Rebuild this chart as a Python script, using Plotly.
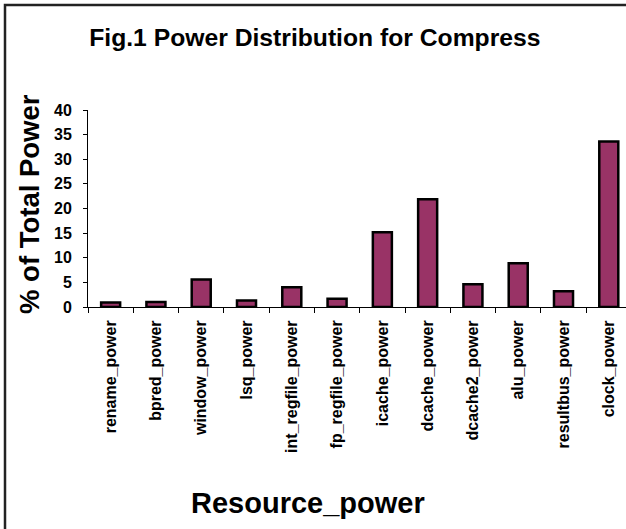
import plotly.graph_objects as go

# Share of total power per processor resource (Compress benchmark)
resources = [
    "rename_power", "bpred_power", "window_power", "lsq_power",
    "int_regfile_power", "fp_regfile_power", "icache_power", "dcache_power",
    "dcache2_power", "alu_power", "resultbus_power", "clock_power",
]
power_pct = [0.9, 1.0, 5.6, 1.3, 4.0, 1.7, 15.2, 21.9, 4.6, 8.9, 3.2, 33.6]
y_ticks = [0, 5, 10, 15, 20, 25, 30, 35, 40]

W, H = 626, 529
M_L, M_R, M_T, M_B = 88, 0, 110, 222
PLOT_W = W - M_L - M_R
PLOT_H = H - M_T - M_B


def px_x(px):
    """Pixel column -> paper x."""
    return (px - M_L) / PLOT_W


def px_y(py):
    """Pixel row -> paper y."""
    return (H - M_B - py) / PLOT_H


FONT = "Liberation Sans, Arial, sans-serif"
PLUM = "#993366"

fig = go.Figure(
    go.Bar(
        x=resources,
        y=power_pct,
        width=0.42,
        marker=dict(color=PLUM, line=dict(color="black", width=2.5)),
        hoverinfo="x+y",
    )
)

fig.update_layout(
    width=W,
    height=H,
    margin=dict(l=M_L, r=M_R, t=M_T, b=M_B, pad=0),
    paper_bgcolor="white",
    plot_bgcolor="white",
    showlegend=False,
    title=dict(
        text="Fig.1 Power Distribution for Compress",
        font=dict(family=FONT, size=24.7, color="black", weight="bold"),
        x=0.503, xref="container", xanchor="center",
        y=1 - 37 / H, yref="container", yanchor="middle",
    ),
    xaxis=dict(
        type="category",
        range=[-0.5, 11.38],
        tickson="boundaries",
        ticks="outside",
        ticklen=5,
        tickcolor="black",
        tickwidth=1,
        tickangle=-90,
        ticklabelstandoff=6,
        tickfont=dict(family=FONT, size=16, color="black", weight="bold"),
        showline=True,
        linecolor="black",
        linewidth=1,
        showgrid=False,
        zeroline=False,
        fixedrange=True,
    ),
    yaxis=dict(
        range=[0, 40],
        tickvals=y_ticks,
        ticks="outside",
        ticklen=4,
        tickcolor="black",
        tickwidth=1,
        ticklabelstandoff=8,
        tickfont=dict(family=FONT, size=16, color="black", weight="bold"),
        showline=True,
        linecolor="black",
        linewidth=1,
        showgrid=False,
        zeroline=False,
        fixedrange=True,
    ),
    annotations=[
        dict(
            text="% of Total Power",
            xref="paper", yref="paper",
            x=px_x(29), y=px_y(204),
            xanchor="center", yanchor="middle",
            textangle=-90, showarrow=False,
            font=dict(family=FONT, size=27.5, color="black", weight="bold"),
        ),
        dict(
            text="Resource_power",
            xref="paper", yref="paper",
            x=px_x(308), y=px_y(503),
            xanchor="center", yanchor="middle",
            showarrow=False,
            font=dict(family=FONT, size=29, color="black", weight="bold"),
        ),
    ],
    shapes=[
        # chart frame (top and left edges)
        dict(
            type="path",
            xref="paper", yref="paper",
            path=f"M {px_x(5)} {px_y(540)} L {px_x(5)} {px_y(5)} L {px_x(640)} {px_y(5)}",
            line=dict(color="#222222", width=2.5),
            layer="above",
        ),
    ],
)

fig.write_html("out.html")
